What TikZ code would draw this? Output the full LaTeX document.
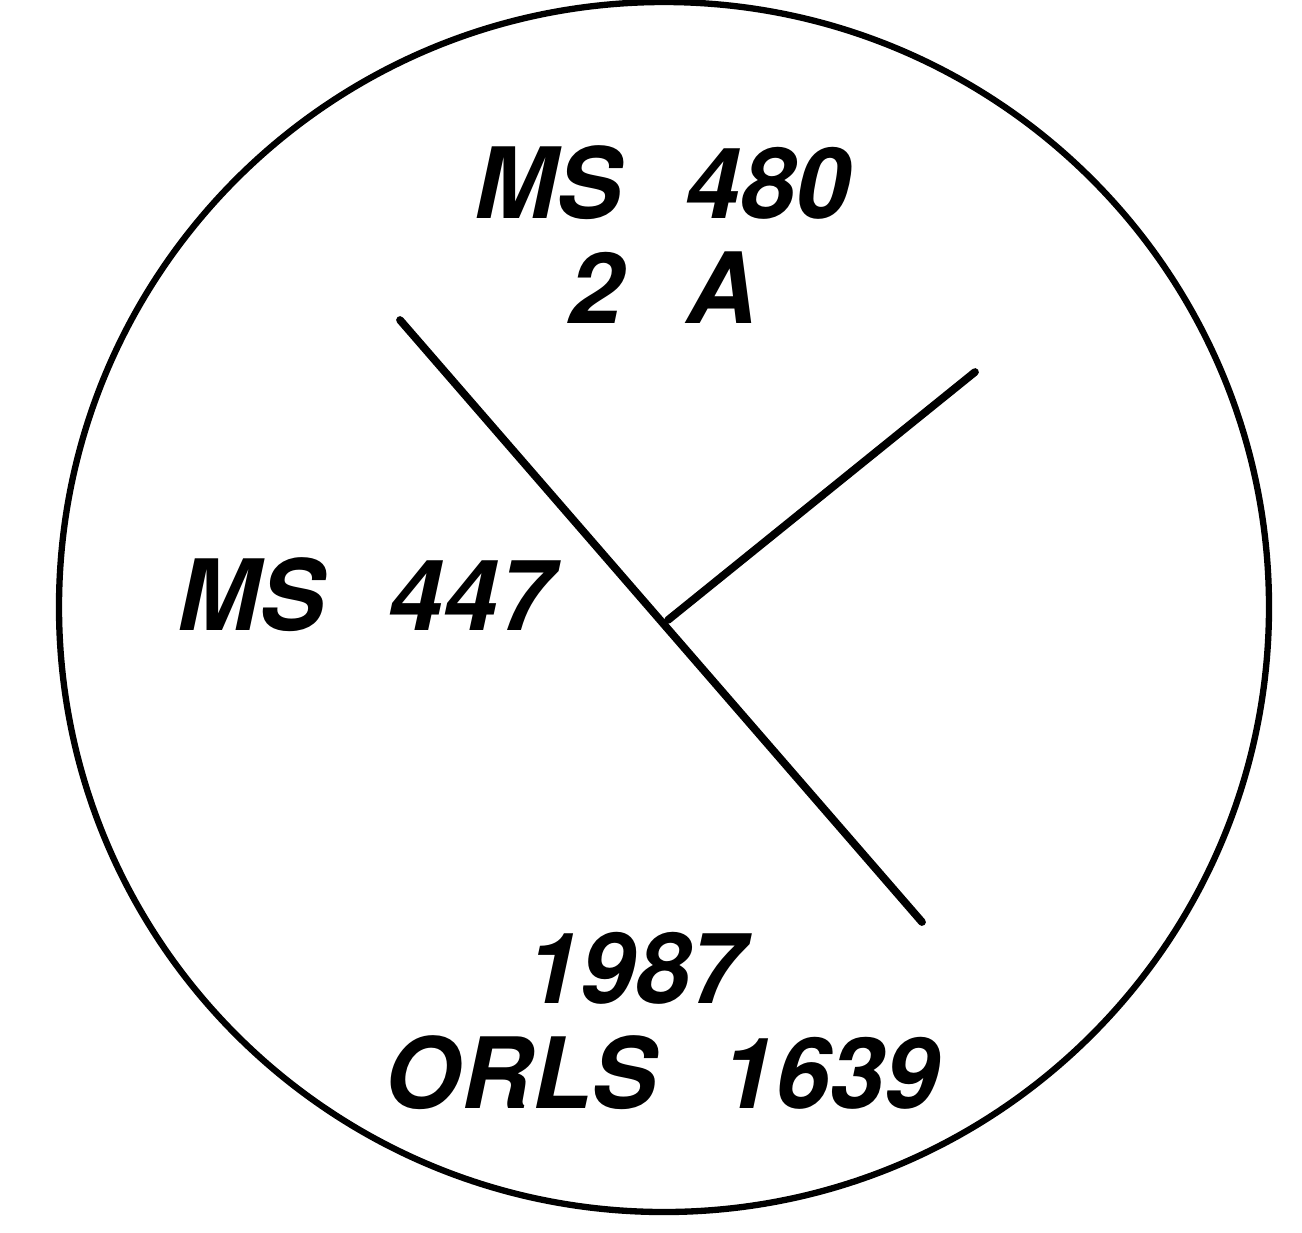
\documentclass[tikz,border=0pt]{standalone}
\usepackage{fontspec}
\setmainfont{TeX Gyre Heros}
\usetikzlibrary{positioning}

\newcommand{\gap}{\hspace{0.65em}}

\begin{document}
\begin{tikzpicture}[x=0.02cm,y=-0.02cm,
   lab/.style={font=\fontsize{56}{66}\selectfont\bfseries\itshape,inner sep=0pt,anchor=base},
   seg/.style={line width=4.4pt,line cap=round}]
  \useasboundingbox (0,0) rectangle (1302,1232);
  \draw[line width=3.6pt] (664,607) circle[radius=605];
  % branches
  \coordinate (top) at (400,320);
  \coordinate (bot) at (922,922);
  \coordinate (fork) at (668,620);
  \coordinate (right) at (975,372);
  \draw[seg] (top) -- (bot);
  \draw[seg] (fork) -- (right);
  % labels
  \node[lab] (ms480) at (662,218) {MS\gap 480};
  \node[lab] (twoa) at (663,323) {2\gap A};
  \node[lab] (ms447) at (365,630) {MS\gap 447};
  \node[lab] (year) at (635,1003) {1987};
  \node[lab] (orls) at (662,1108) {ORLS\gap 1639};
\end{tikzpicture}
\end{document}
